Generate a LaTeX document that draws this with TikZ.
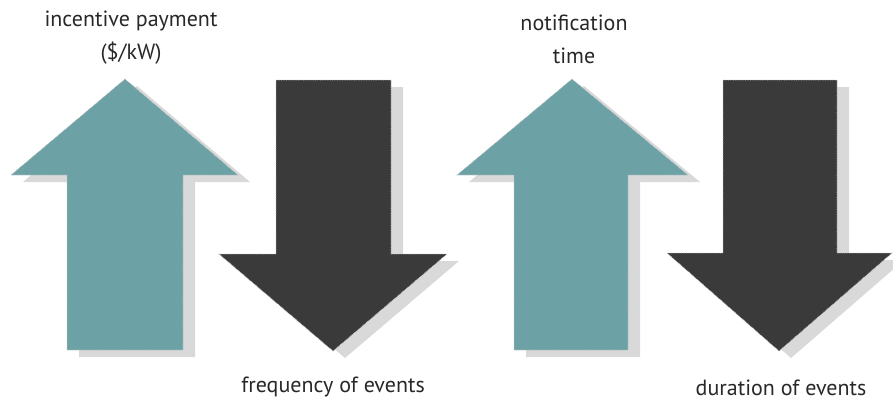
\documentclass[tikz,border=0pt]{standalone}
\usepackage{fontspec}
\setmainfont{PT Sans}
\usepackage{xcolor}
\usetikzlibrary{positioning}

\definecolor{upteal}{RGB}{108,162,165}
\definecolor{downgray}{RGB}{58,58,58}
\definecolor{shadowgray}{RGB}{217,217,217}
\definecolor{labelgray}{RGB}{40,40,40}

\begin{document}
\begin{tikzpicture}[x=1pt, y=-1pt,
    font=\fontsize{22}{33}\selectfont,
    arrowlabel/.style={text=labelgray, align=center, inner sep=0pt},
    arrowedge/.style={draw=gray!45, densely dotted, line width=0.7pt},
    dropshadow/.style={fill=shadowgray, shift={(12,7)}}]

\useasboundingbox (0,0) rectangle (893,402);

% Shadows
\fill[dropshadow] (125,79) -- (238,175) -- (183,175) -- (183,350) -- (67,350) -- (67,175) -- (11,175) -- cycle;
\fill[dropshadow] (276,80) -- (391,80) -- (391,254) -- (447,254) -- (333,351) -- (219,254) -- (276,254) -- cycle;
\fill[dropshadow] (572,79) -- (688,175) -- (628,175) -- (628,350) -- (514,350) -- (514,175) -- (457,175) -- cycle;
\fill[dropshadow] (723,80) -- (837,80) -- (837,253) -- (892,253) -- (779,351) -- (667,253) -- (723,253) -- cycle;

% Up arrows
\filldraw[fill=upteal, arrowedge] (125,79) -- (238,175) -- (183,175) -- (183,350) -- (67,350) -- (67,175) -- (11,175) -- cycle;
\filldraw[fill=upteal, arrowedge] (572,79) -- (688,175) -- (628,175) -- (628,350) -- (514,350) -- (514,175) -- (457,175) -- cycle;

% Down arrows
\filldraw[fill=downgray, arrowedge] (276,80) -- (391,80) -- (391,254) -- (447,254) -- (333,351) -- (219,254) -- (276,254) -- cycle;
\filldraw[fill=downgray, arrowedge] (723,80) -- (837,80) -- (837,253) -- (892,253) -- (779,351) -- (667,253) -- (723,253) -- cycle;

% Labels
\node[arrowlabel] (payment) at (131,38) {incentive payment\\(\$/kW)};
\node[arrowlabel] (notice) at (574,39) {notification\\time};
\node[arrowlabel, anchor=base] (frequency) at (333,392) {frequency of events};
\node[arrowlabel, anchor=base] (duration) at (781,395) {duration of events};

\end{tikzpicture}
\end{document}
